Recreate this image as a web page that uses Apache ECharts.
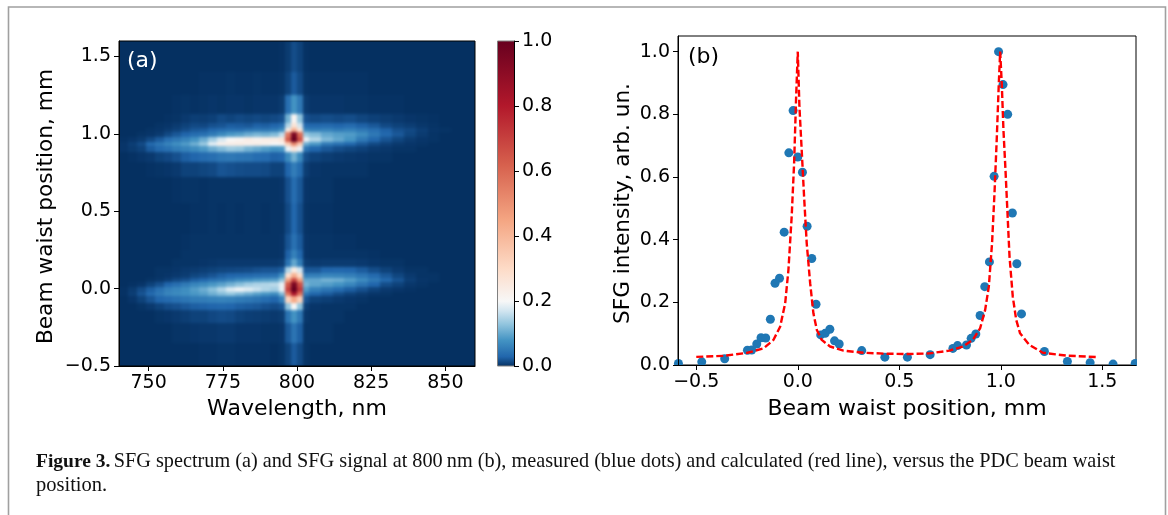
<!DOCTYPE html>
<html><head><meta charset="utf-8">
<style>html,body{margin:0;padding:0;background:#fff}#c{width:1168px;height:515px}</style>
<script src="https://cdn.jsdelivr.net/npm/echarts@6/dist/echarts.min.js"></script>
</head><body><div id="c"></div>
<script>
const xEdges=[740,743,746,749,752,755,758,761,764,767,770,773,776,779,782,785,788,791,794,796,798,800,802,804,808,812,816,820,824,828,832,836,840,844,848,852,856,860];
const yEdges=[1.60,1.40,1.25,1.13,1.07,1.04,1.01,.98,.95,.92,.88,.82,.72,.55,.35,.25,.19,.14,.10,.07,.04,.01,-.02,-.05,-.09,-.14,-.22,-.35,-.50];
// intensity in thousandths, top row first
const spectrum=[
[0,0,0,0,0,0,0,0,0,0,0,0,0,0,0,0,0,0,1,6,16,10,1,0,0,0,0,0,0,0,0,0,0,0,0,0,0],
[0,0,0,0,0,0,0,0,0,1,1,1,2,1,1,2,1,1,2,10,24,14,2,1,1,1,1,1,0,0,0,0,0,0,0,0,0],
[0,0,0,0,0,0,1,2,1,2,3,2,3,3,2,3,3,3,6,40,80,50,6,3,3,3,2,2,1,1,1,0,0,0,0,0,0],
[0,0,0,0,0,1,2,5,8,7,9,14,11,14,12,14,12,14,18,110,210,130,18,14,16,14,16,12,9,7,5,3,2,1,0,0,0],
[0,0,0,0,2,3,6,10,14,13,18,20,25,24,22,28,26,30,40,150,270,170,36,32,34,30,36,28,22,14,10,7,4,2,0,0,0],
[0,0,0,2,3,6,10,16,22,24,32,38,42,40,48,52,50,55,75,250,420,270,65,58,62,54,60,50,40,28,18,14,8,3,2,0,0],
[0,0,2,3,6,14,22,30,38,42,54,70,85,92,105,115,110,120,160,560,950,590,135,120,100,92,88,72,50,32,22,12,6,2,0,0,0],
[1,3,6,14,24,40,50,62,80,105,140,175,205,215,235,220,235,240,260,630,1000,660,190,150,118,100,82,52,32,20,12,6,3,2,0,0,0],
[3,8,15,34,48,62,75,88,108,135,185,225,235,240,228,235,222,205,215,340,520,350,105,85,52,42,32,22,14,9,5,3,2,0,0,0,0],
[3,6,10,24,34,42,54,62,72,85,105,120,135,130,112,102,90,80,85,190,260,190,48,30,22,16,12,9,5,4,2,2,0,0,0,0,0],
[0,1,3,5,10,13,18,26,30,36,40,48,50,46,44,38,36,28,30,70,110,70,16,10,7,5,4,3,2,2,0,0,0,0,0,0,0],
[0,0,0,1,2,3,5,10,10,12,14,20,18,16,15,15,14,10,10,30,55,35,7,3,2,2,2,2,0,0,0,0,0,0,0,0,0],
[0,0,0,0,0,0,1,2,2,1,2,2,2,2,2,2,2,2,3,18,38,22,3,2,2,0,0,0,0,0,0,0,0,0,0,0,0],
[0,0,0,0,0,0,0,0,1,1,2,1,2,1,2,2,1,2,2,14,32,18,2,1,1,0,0,0,0,0,0,0,0,0,0,0,0],
[0,0,0,0,0,0,0,1,2,2,2,2,2,2,2,2,2,2,3,20,42,24,3,2,2,1,1,0,0,0,0,0,0,0,0,0,0],
[0,0,0,0,0,0,0,2,2,2,2,2,2,2,2,2,2,2,3,28,60,32,3,2,2,2,2,2,1,0,0,0,0,0,0,0,0],
[0,0,0,0,0,0,2,2,2,3,4,5,5,5,5,5,5,5,7,45,100,55,7,5,6,6,6,5,3,2,2,0,0,0,0,0,0],
[0,0,0,0,2,2,3,5,6,8,10,12,13,14,15,18,20,20,26,150,240,170,22,22,30,32,30,24,16,10,5,2,2,0,0,0,0],
[0,0,0,0,2,3,5,7,12,15,20,26,30,32,34,38,40,42,80,280,420,290,55,58,64,62,58,48,34,22,12,5,2,2,0,0,0],
[0,0,0,2,4,8,14,18,26,32,42,48,58,70,76,84,88,92,130,450,680,460,100,100,112,108,92,72,52,34,20,8,3,2,0,0,0],
[0,1,3,10,18,30,40,52,64,72,84,95,110,125,140,148,150,155,190,640,950,660,115,98,90,80,66,46,30,16,10,4,2,0,0,0,0],
[1,6,15,26,42,58,66,74,90,105,125,150,178,192,180,165,150,140,190,700,1000,720,90,60,48,38,26,18,10,5,3,1,0,0,0,0,0],
[1,8,20,34,50,64,70,76,84,92,108,122,132,118,105,92,82,72,120,560,820,580,50,30,24,16,10,6,3,2,0,0,0,0,0,0,0],
[0,3,10,20,30,36,42,48,54,56,60,62,60,54,50,44,38,30,60,320,440,330,20,10,8,5,3,2,0,0,0,0,0,0,0,0,0],
[0,0,2,5,10,15,18,22,26,28,30,32,30,26,24,22,18,15,20,130,200,130,8,3,2,2,2,0,0,0,0,0,0,0,0,0,0],
[0,0,0,0,2,3,5,7,10,10,13,15,14,10,8,7,6,5,7,45,80,50,4,2,2,2,0,0,0,0,0,0,0,0,0,0,0],
[0,0,0,0,0,0,2,2,3,4,4,5,5,3,3,3,2,2,3,22,46,26,2,2,2,0,0,0,0,0,0,0,0,0,0,0,0],
[0,0,0,0,0,0,0,0,0,1,1,2,2,1,1,1,1,0,2,10,24,14,2,0,0,0,0,0,0,0,0,0,0,0,0,0,0]
];
const measuredX=[-.588,-.473,-.36,-.248,-.227,-.202,-.181,-.158,-.135,-.112,-.09,-.067,-.044,-.023,0,.023,.046,.069,.09,.113,.135,.158,.181,.204,.315,.429,.54,.652,.764,.787,.831,.854,.877,.898,.921,.944,.967,.989,1.011,1.034,1.057,1.079,1.102,1.215,1.328,1.44,1.553,1.662];
const measuredY=[.005,.01,.02,.047,.048,.067,.087,.086,.146,.261,.277,.424,.677,.812,.664,.615,.443,.34,.194,.096,.101,.114,.077,.067,.046,.025,.025,.033,.053,.062,.064,.085,.099,.158,.25,.329,.602,1,.895,.8,.485,.323,.163,.043,.011,.007,.003,.005];
const calcX=[-.5,-.366,-.248,-.169,-.12,-.087,-.062,-.046,-.03,-.018,-.008,0,.008,.02,.031,.044,.061,.077,.094,.118,.159,.225,.323,.438,.553,.649,.747,.813,.862,.898,.923,.941,.957,.969,.98,.99,.997,1.005,1.013,1.023,1.033,1.043,1.059,1.076,1.095,1.141,1.207,1.322,1.481];
const calcY=[.026,.029,.039,.053,.08,.122,.197,.304,.474,.645,.858,1,.826,.677,.538,.389,.261,.165,.112,.08,.059,.046,.039,.036,.035,.037,.046,.059,.08,.117,.176,.25,.389,.549,.72,.895,1,.895,.751,.624,.485,.346,.218,.144,.101,.064,.039,.03,.025];
const cmapStops=[[0,'#053061'],[.03,'#2166ac'],[.08,'#4393c3'],[.13,'#92c5de'],[.17,'#d1e5f0'],[.2,'#f7f7f7'],[.3,'#fddbc7'],[.45,'#f4a582'],[.62,'#d6604d'],[.8,'#b2182b'],[1,'#67001f']];
const xTicksA=[750,775,800,825,850], yTicksA=[-.5,0,.5,1,1.5], cbTicks=[0,.2,.4,.6,.8,1];
const xTicksB=[-.5,0,.5,1,1.5], yTicksB=[0,.2,.4,.6,.8,1];
const font='"DejaVu Sans"', fs=19;

function mix(t){
  for(let i=1;i<cmapStops.length;i++){
    const [a,ca]=cmapStops[i-1],[b,cb]=cmapStops[i];
    if(t<=b){
      const f=(t-a)/(b-a),p=s=>[1,3,5].map(k=>parseInt(s.substr(k,2),16));
      const A=p(ca),B=p(cb);
      return 'rgb('+A.map((v,k)=>Math.round(v+(B[k]-v)*f)).join(',')+')';
    }
  }
  return cmapStops[cmapStops.length-1][1];
}
const cells=[];
spectrum.forEach((row,r)=>row.forEach((v,c)=>cells.push([xEdges[c],xEdges[c+1],yEdges[r],yEdges[r+1],v/1000])));
const fmt=v=>{const s=Math.abs(v).toFixed(1);return v<-1e-9?'\u2212'+s:s;};
const axisBase=(ticks)=>({
  axisLine:{show:true,onZero:false,lineStyle:{color:'#000',width:1}},
  axisTick:{show:true,length:5,customValues:ticks,lineStyle:{color:'#000',width:1}},
  axisLabel:{customValues:ticks,color:'#000',fontFamily:font,fontSize:fs,margin:8,formatter:null},
  splitLine:{show:false},z:10,
  nameTextStyle:{color:'#000',fontFamily:font,fontSize:22},nameLocation:'middle'
});
const withFmt=(o,f)=>{o.axisLabel.formatter=f;return o;};
const vName=(size,pad)=>({color:'#000',fontFamily:font,fontSize:size,padding:[0,pad,0,0]});
const option={
  animation:false,backgroundColor:'#fff',
  grid:[
    {left:119,top:41,width:356,height:325,show:true,backgroundColor:'transparent',borderColor:'#000',borderWidth:1},
    {left:497,top:41,width:17,height:325},
    {left:678,top:36,width:458,height:329,show:true,backgroundColor:'transparent',borderColor:'#000',borderWidth:1}
  ],
  xAxis:[
    Object.assign(withFmt(axisBase(xTicksA),v=>String(v)),{type:'value',gridIndex:0,min:740,max:860,name:'Wavelength, nm',nameGap:32}),
    {type:'value',gridIndex:1,min:0,max:1,show:false},
    Object.assign(withFmt(axisBase(xTicksB),fmt),{type:'value',gridIndex:2,min:-.59,max:1.666,name:'Beam waist position, mm',nameGap:33})
  ],
  yAxis:[
    Object.assign(withFmt(axisBase(yTicksA),fmt),{type:'value',gridIndex:0,min:-.5,max:1.6,name:'Beam waist position, mm',nameGap:62,nameTextStyle:vName(21.7,6)}),
    Object.assign(withFmt(axisBase(cbTicks),fmt),{type:'value',gridIndex:1,min:0,max:1,position:'right'}),
    Object.assign(withFmt(axisBase(yTicksB),fmt),{type:'value',gridIndex:2,min:0,max:1.05,name:'SFG intensity, arb. un.',nameGap:44,nameTextStyle:vName(21.6,6)})
  ],
  series:[
    {type:'custom',xAxisIndex:0,yAxisIndex:0,clip:false,zlevel:-1,data:cells,encode:{x:[0,1],y:[2,3]},
     renderItem(p,api){
       const a=api.coord([api.value(0),api.value(2)]),b=api.coord([api.value(1),api.value(3)]);
       const x=Math.round(a[0]),y=Math.round(a[1]);
       return {type:'rect',shape:{x,y,width:Math.round(b[0])-x,height:Math.round(b[1])-y},style:{fill:mix(api.value(4))}};
     }},
    {type:'custom',xAxisIndex:1,yAxisIndex:1,data:[[0,1,0,1]],encode:{x:[0,1],y:[2,3]},
     renderItem(p,api){
       const a=api.coord([0,1]),b=api.coord([1,0]);
       return {type:'rect',shape:{x:a[0]+.5,y:a[1],width:b[0]-a[0],height:b[1]-a[1]},
         style:{stroke:'#808080',lineWidth:1,fill:new echarts.graphic.LinearGradient(0,1,0,0,cmapStops.map(s=>({offset:s[0],color:s[1]})))}};
     }},
    {type:'scatter',xAxisIndex:2,yAxisIndex:2,clip:false,z:3,symbolSize:9,itemStyle:{color:'#1f77b4',opacity:1},
     data:measuredX.map((x,i)=>[x,measuredY[i]])},
    {type:'line',xAxisIndex:2,yAxisIndex:2,z:4,showSymbol:false,symbol:'none',smooth:false,
     lineStyle:{color:'#ff0000',width:2.4,type:[7,3]},data:calcX.map((x,i)=>[x,calcY[i]])}
  ],
  graphic:[
    {type:'rect',silent:true,z:6,shape:{x:665,y:366,width:480,height:6},style:{fill:'#fff'}},
    {type:'rect',silent:true,z:6,shape:{x:1137,y:340,width:8,height:30},style:{fill:'#fff'}},
    {type:'rect',silent:true,zlevel:-1,z:0,shape:{x:105,y:28,width:385,height:352},style:{fill:'#053061'}},
    {type:'rect',silent:true,z:1,shape:{x:8.5,y:7,width:1157,height:530},style:{fill:'none',stroke:'#a0a0a0',lineWidth:1.6}},
    {type:'text',z:20,x:127,y:50,style:{text:'(a)',fill:'#fff',font:'22px '+font}},
    {type:'text',z:20,x:688,y:46,style:{text:'(b)',fill:'#000',font:'22px '+font}},
    {type:'text',z:20,x:36,y:452,style:{
      text:'{b|Figure 3.} {n|SFG spectrum (a) and SFG signal at 800\u2009nm (b), measured (blue dots) and calculated (red line), versus the PDC beam waist}',
      rich:{b:{font:'bold 19.5px "Liberation Serif"',fill:'#111'},n:{font:'20.25px "Liberation Serif"',fill:'#111'}}}},
    {type:'text',z:20,x:36,y:475,style:{text:'position.',fill:'#111',font:'20.5px "Liberation Serif"'}}
  ]
};
const chart=echarts.init(document.getElementById('c'),null,{renderer:'canvas'});
chart.setOption(option);
const layer=document.querySelector('canvas[data-zr-dom-id="zr_-1"]');
if(layer){layer.style.filter='blur(1.4px)';layer.style.clipPath='inset(41px 693px 149px 119px)';}
</script></body></html>
